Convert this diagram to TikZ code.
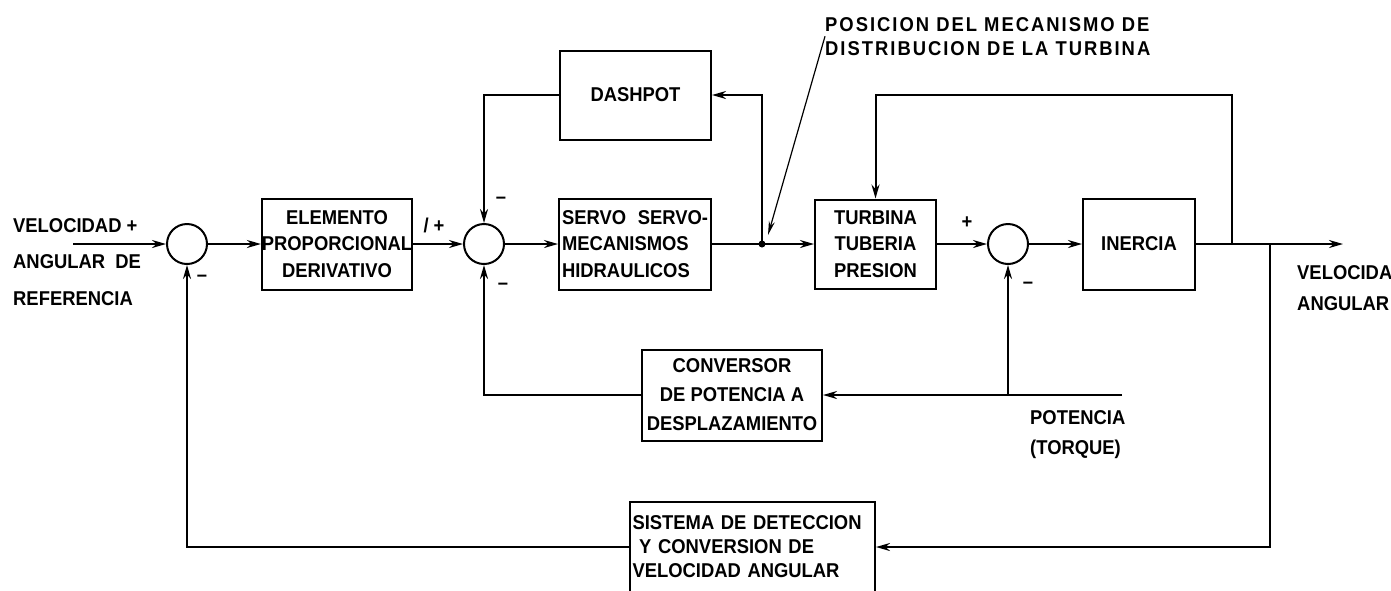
\documentclass[tikz,border=0pt]{standalone}
\usepackage{fontspec}
\setmainfont{Liberation Sans}[FakeStretch=0.92]
\usetikzlibrary{arrows.meta, positioning, calc}

\newcommand{\letra}{\fontsize{20}{26.5}\selectfont\bfseries}

\begin{document}
\begin{tikzpicture}[x=1pt, y=-1pt,
  bloque/.style={draw, line width=2pt, font=\letra, align=center, inner sep=0pt},
  suma/.style={draw, circle, line width=2pt, minimum size=40pt, inner sep=0pt},
  linea/.style={line width=2pt},
  flecha/.style={line width=2pt, -{Stealth[length=14pt, width=8pt]}},
  signo/.style={font=\letra, inner sep=0pt},
  rotulo/.style={align=left, inner sep=0pt, anchor=north west}]
  \useasboundingbox (0,0) rectangle (1391,590);
  \clip (0,0) rectangle (1391,590);

  % Sumadores y bloques de la cadena directa
  \node[suma] (s1) at (187,244) {};
  \node[bloque, minimum width=150pt, minimum height=91pt] (prop) at (337,244) {ELEMENTO\\PROPORCIONAL\\DERIVATIVO};
  \node[suma] (s2) at (484,244) {};
  \node[bloque, minimum width=152pt, minimum height=91pt, text width=146pt, align=left] (servo) at (635,244) {SERVO\hfill SERVO-\\MECANISMOS\\HIDRAULICOS};
  \node[bloque, minimum width=151pt, minimum height=89pt] (dash) at (635.5,95) {DASHPOT};
  \node[bloque, minimum width=121pt, minimum height=89pt] (turb) at (875.5,244) {TURBINA\\TUBERIA\\PRESION};
  \node[suma] (s3) at (1008,244) {};
  \node[bloque, minimum width=112pt, minimum height=91pt] (iner) at (1139,244) {INERCIA};

  % Bloques de realimentacion
  \node[bloque, minimum width=180pt, minimum height=91pt, font=\fontsize{20}{29}\selectfont\bfseries] (conv) at (732,395) {CONVERSOR\\DE POTENCIA A\\DESPLAZAMIENTO};
  \node[bloque, minimum width=245pt, minimum height=90pt, text width=240pt, align=left, font=\fontsize{20}{24}\selectfont\bfseries] (sist) at (752.5,547) {SISTEMA DE DETECCION\\\ Y CONVERSION DE\\VELOCIDAD ANGULAR};

  % Puntos de entrada, salida y derivacion
  \coordinate (ent) at (73,244);
  \coordinate (sal) at (1343,244);
  \coordinate (dot) at (762,244);
  \coordinate (r1) at (1232,244);
  \coordinate (r2) at (1270,244);
  \coordinate (pot) at (1122,395);

  % Cadena directa
  \draw[flecha] (ent) -- (s1);
  \draw[flecha] (s1) -- (prop);
  \draw[flecha] (prop) -- (s2);
  \draw[flecha] (s2) -- (servo);
  \draw[linea] (servo) -- (dot);
  \draw[flecha] (dot) -- (turb);
  \draw[flecha] (turb) -- (s3);
  \draw[flecha] (s3) -- (iner);
  \draw[flecha] (iner) -- (sal);
  \fill (dot) circle (3.5pt);

  % Lazos internos
  \draw[flecha] (dot) |- (dash);
  \draw[flecha] (dash) -| (s2);
  \draw[flecha] (r1) -- ++(0,-149) -| (turb);
  \draw[flecha] (pot) -- (conv);
  \draw[flecha] (s3 |- pot) -- (s3);
  \draw[flecha] (conv) -| (s2);

  % Lazo de velocidad
  \draw[flecha] (r2) |- (sist);
  \draw[flecha] (sist) -| (s1);

  % Signos
  \node[signo] (m1) at (202,278) {--};
  \node[signo] (p2) at (434,225) {/ +};
  \node[signo] (m2a) at (501,200) {--};
  \node[signo] (m2b) at (503,286) {--};
  \node[signo] (p3) at (967,223) {+};
  \node[signo] (m3) at (1028,285) {--};

  % Rotulos
  \node[rotulo, font=\fontsize{20}{36.5}\selectfont\bfseries] (ref) at (13,218) {VELOCIDAD +\\ANGULAR\ \ DE\\REFERENCIA};
  \node[rotulo, font=\fontsize{20}{31}\selectfont\bfseries] (vsal) at (1297,265) {VELOCIDAD\\ANGULAR};
  \node[rotulo, font=\fontsize{20}{30}\selectfont\bfseries] (ptq) at (1030,410) {POTENCIA\\(TORQUE)};
  \node[rotulo, font=\fontsize{20}{24}\selectfont\bfseries\addfontfeatures{LetterSpace=10}] (posicion) at (825,17) {POSICION DEL MECANISMO DE\\DISTRIBUCION DE LA TURBINA};
  \draw[line width=1.2pt, -{Stealth[length=14pt, width=6pt]}] (posicion.west) -- ($(dot)+(6,-9)$);
\end{tikzpicture}
\end{document}
